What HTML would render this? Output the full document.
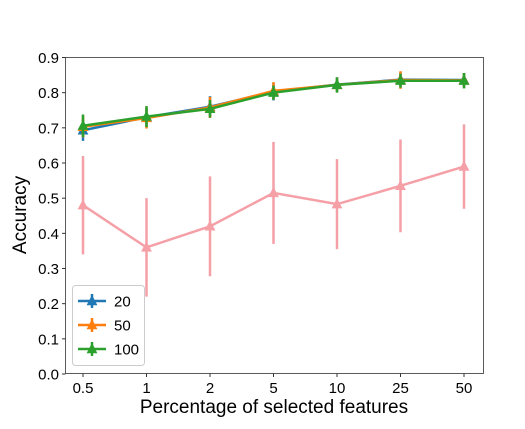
<!DOCTYPE html>
<html><head><meta charset="utf-8"><style>
body{margin:0;background:#fff;}
svg text{font-family:"Liberation Sans",sans-serif;fill:#000;}
</style></head><body>
<svg id="chart" width="525" height="424" xmlns="http://www.w3.org/2000/svg">
<rect x="65.5" y="57.5" width="418" height="316" fill="none" stroke="#333" stroke-width="0.8"/>
<g id="ticks"></g><g id="series"></g>
<text x="26" y="215" font-size="19" text-anchor="middle" transform="rotate(-90 26 215)">Accuracy</text>
<text x="274" y="413" font-size="19" text-anchor="middle">Percentage of selected features</text>
<g>
<rect x="72.5" y="285.5" width="72" height="80" rx="3" fill="#fff" stroke="#ccc"/>
<g id="legend-items"></g>
</g>
</svg>
<script>
const categories=["0.5","1","2","5","10","25","50"];
const yTicks=[0,0.1,0.2,0.3,0.4,0.5,0.6,0.7,0.8,0.9];
const redMean=[0.48,0.36,0.42,0.515,0.483,0.535,0.59];
const redErr=[0.14,0.14,0.142,0.145,0.128,0.132,0.12];
const s20=[0.693,0.73,0.76,0.803,0.823,0.837,0.836];
const e20=[0.03,0.025,0.03,0.025,0.02,0.02,0.02];
const s50=[0.703,0.728,0.758,0.805,0.822,0.836,0.835];
const e50=[0.03,0.03,0.03,0.025,0.02,0.025,0.02];
const s100=[0.706,0.732,0.754,0.8,0.822,0.834,0.834];
const e100=[0.032,0.03,0.025,0.02,0.022,0.02,0.022];
const xs=i=>83+i*63.5;
const ys=v=>374-v*(316.5/0.9);
const NS="http://www.w3.org/2000/svg";
function mk(t,a,p){const e=document.createElementNS(NS,t);for(const k in a)e.setAttribute(k,a[k]);p.appendChild(e);return e;}
const tk=document.getElementById('ticks');
yTicks.forEach(v=>{const y=ys(v);
mk('line',{x1:62,x2:65.5,y1:y,y2:y,stroke:'#333'},tk);
const t=mk('text',{x:59,y:y+5.5,'font-size':15,'text-anchor':'end'},tk);t.textContent=v.toFixed(1);

});
categories.forEach((c,i)=>{const x=xs(i);
mk('line',{x1:x,x2:x,y1:373.5,y2:377,stroke:'#333'},tk);
const t=mk('text',{x:x,y:393,'font-size':15,'text-anchor':'middle'},tk);t.textContent=c;

});
const sg=document.getElementById('series');
function tri(x,y,s){return `${x},${y-s} ${x-s*0.9},${y+s*0.7} ${x+s*0.9},${y+s*0.7}`;}
function series(name,mean,err,color,op,w,ts){
const g=mk('g',{opacity:op},sg);


mean.forEach((v,i)=>{const l=mk('line',{x1:xs(i),x2:xs(i),y1:ys(v-err[i]),y2:ys(v+err[i]),stroke:color,'stroke-width':w},g);

});
mk('polyline',{points:mean.map((v,i)=>xs(i)+','+ys(v)).join(' '),fill:'none',stroke:color,'stroke-width':w},g);
mean.forEach((v,i)=>{const p=mk('polygon',{points:tri(xs(i),ys(v),ts),fill:color},g);

});
}
series('random',redMean,redErr,'#f0606e',0.6,2.5,6);
series('20',s20,e20,'#1f77b4',1,2.5,6);
series('50',s50,e50,'#ff7f0e',1,2.5,6);
series('100',s100,e100,'#2ca02c',1,2.5,6);
const lg=document.getElementById('legend-items');
[['20','#1f77b4'],['50','#ff7f0e'],['100','#2ca02c']].forEach((d,i)=>{const y=301+i*24;
const g=mk('g',{},lg);


mk('line',{x1:78,x2:106,y1:y,y2:y,stroke:d[1],'stroke-width':2.5},g);
mk('line',{x1:92,x2:92,y1:y-7,y2:y+7,stroke:d[1],'stroke-width':2.5},g);
mk('polygon',{points:tri(92,y,6),fill:d[1]},g);
const t=mk('text',{x:114,y:y+5.5,'font-size':15},g);t.textContent=d[0];});
</script>
</body></html>
